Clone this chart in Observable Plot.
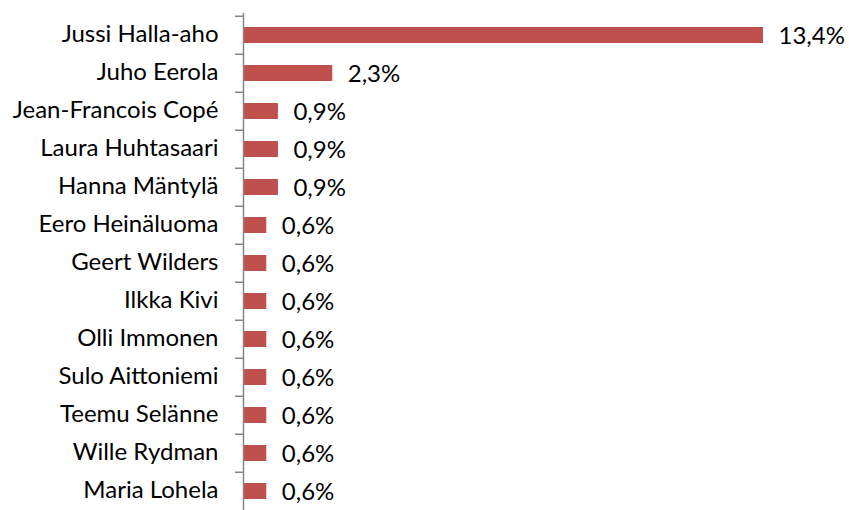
<!DOCTYPE html>
<html><head><meta charset="utf-8">
<script src="https://cdn.jsdelivr.net/npm/d3@7"></script>
<script src="https://cdn.jsdelivr.net/npm/@observablehq/plot@0.6"></script>
<style>body{margin:0;background:#fff}</style>
</head><body><div id="chart"></div>
<script>
const names = ["Jussi Halla-aho","Juho Eerola","Jean-Francois Copé","Laura Huhtasaari","Hanna Mäntylä","Eero Heinäluoma","Geert Wilders","Ilkka Kivi","Olli Immonen","Sulo Aittoniemi","Teemu Selänne","Wille Rydman","Maria Lohela"];
const values = [13.4,2.3,0.9,0.9,0.9,0.6,0.6,0.6,0.6,0.6,0.6,0.6,0.6];
const data = names.map((n,i)=>({name:n, value:values[i]}));
const W=849, H=510, mt=13, step=38.5;
const fmt = v => v.toFixed(1).replace(".", ",") + "%";
const chart = Plot.plot({
  width: W, height: H,
  marginLeft: 243, marginRight: 86, marginTop: mt, marginBottom: 0,
  style: {fontFamily: "Lato, sans-serif", fontSize: "24px", color: "#000", background: "#fff"},
  x: {domain: [0, 13.4], axis: null},
  y: {domain: names, range: [mt, mt + step * names.length], padding: 0.58, paddingOuter: 0.29, label: null},
  marks: [
    Plot.barX(data, {x: "value", y: "name", fill: "#C0504D", insetLeft: 1}),
    Plot.axisY({tickSize: 0, tickPadding: 25, fontSize: 24, fill: "#000", dy: -1}),
    Plot.axisY({tickSize: 8, tickFormat: null, dy: -step/2, stroke: "#868686", strokeWidth: 1.5}),
    Plot.ruleX([0], {stroke: "#868686", strokeWidth: 1.5}),
    Plot.text(data, {x: "value", y: "name", text: d => fmt(d.value), textAnchor: "start", dx: 15, dy: 1, fontSize: 24, fill: "#000"})
  ]
});
document.getElementById("chart").appendChild(chart);
</script></body></html>
